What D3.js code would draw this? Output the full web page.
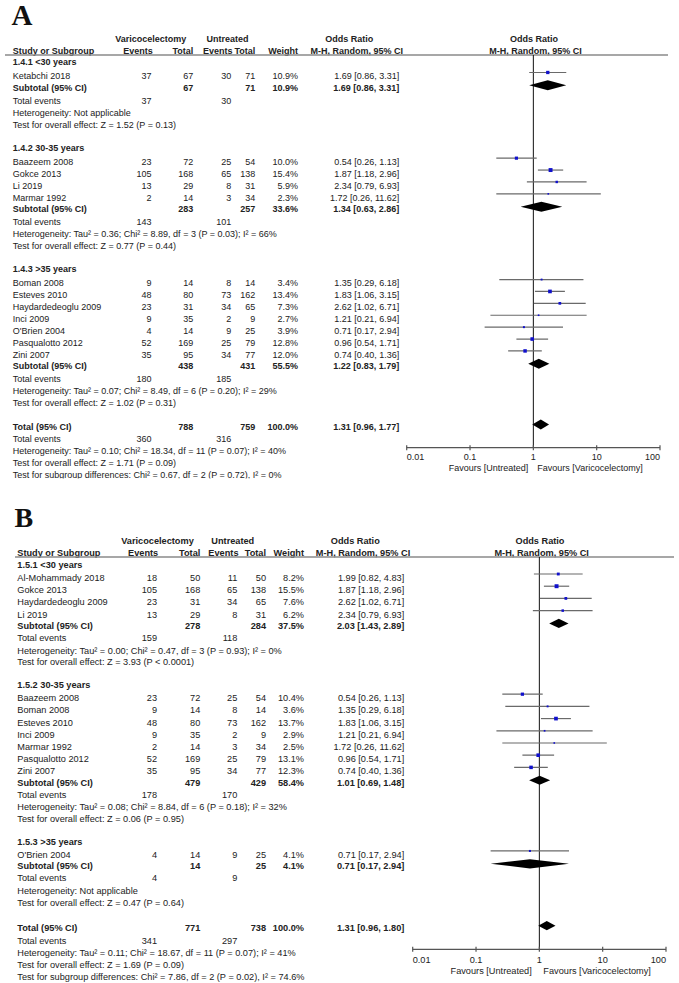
<!DOCTYPE html>
<html><head><meta charset="utf-8">
<script src="https://cdn.jsdelivr.net/npm/d3@7"></script>
<style>body{margin:0;background:#fff}svg{display:block}</style>
</head><body><svg id="c" width="679" height="983"></svg>
<script>
// ================= DATA =================
// Panel A
const groupsA = ["1.4.1 <30 years", "1.4.2 30-35 years", "1.4.3 >35 years"];
// [name, group, events1, total1, events2, total2, weight, OR, lower, upper]
const studiesA = [
  ["Ketabchi 2018", 0, 37, 67, 30, 71, 10.9, 1.69, 0.86, 3.31],
  ["Baazeem 2008", 1, 23, 72, 25, 54, 10.0, 0.54, 0.26, 1.13],
  ["Gokce 2013", 1, 105, 168, 65, 138, 15.4, 1.87, 1.18, 2.96],
  ["Li 2019", 1, 13, 29, 8, 31, 5.9, 2.34, 0.79, 6.93],
  ["Marmar 1992", 1, 2, 14, 3, 34, 2.3, 1.72, 0.26, 11.62],
  ["Boman 2008", 2, 9, 14, 8, 14, 3.4, 1.35, 0.29, 6.18],
  ["Esteves 2010", 2, 48, 80, 73, 162, 13.4, 1.83, 1.06, 3.15],
  ["Haydardedeoglu 2009", 2, 23, 31, 34, 65, 7.3, 2.62, 1.02, 6.71],
  ["Inci 2009", 2, 9, 35, 2, 9, 2.7, 1.21, 0.21, 6.94],
  ["O'Brien 2004", 2, 4, 14, 9, 25, 3.9, 0.71, 0.17, 2.94],
  ["Pasqualotto 2012", 2, 52, 169, 25, 79, 12.8, 0.96, 0.54, 1.71],
  ["Zini 2007", 2, 35, 95, 34, 77, 12.0, 0.74, 0.40, 1.36]
];
// [total1, total2, weight, OR, lower, upper, events1, events2]
const subtotalsA = [
  [67, 71, 10.9, 1.69, 0.86, 3.31, 37, 30],
  [283, 257, 33.6, 1.34, 0.63, 2.86, 143, 101],
  [438, 431, 55.5, 1.22, 0.83, 1.79, 180, 185]
];
const heterogeneityA = [
  "Heterogeneity: Not applicable",
  "Heterogeneity: Tau² = 0.36; Chi² = 8.89, df = 3 (P = 0.03); I² = 66%",
  "Heterogeneity: Tau² = 0.07; Chi² = 8.49, df = 6 (P = 0.20); I² = 29%"
];
const overallTestA = [
  "Test for overall effect: Z = 1.52 (P = 0.13)",
  "Test for overall effect: Z = 0.77 (P = 0.44)",
  "Test for overall effect: Z = 1.02 (P = 0.31)"
];
const totalA = [788, 759, 100.0, 1.31, 0.96, 1.77, 360, 316];
const totalTextsA = [
  "Heterogeneity: Tau² = 0.10; Chi² = 18.34, df = 11 (P = 0.07); I² = 40%",
  "Test for overall effect: Z = 1.71 (P = 0.09)",
  "Test for subgroup differences: Chi² = 0.67, df = 2 (P = 0.72), I² = 0%"
];

// Panel B
const groupsB = ["1.5.1 <30 years", "1.5.2 30-35 years", "1.5.3 >35 years"];
const studiesB = [
  ["Al-Mohammady 2018", 0, 18, 50, 11, 50, 8.2, 1.99, 0.82, 4.83],
  ["Gokce 2013", 0, 105, 168, 65, 138, 15.5, 1.87, 1.18, 2.96],
  ["Haydardedeoglu 2009", 0, 23, 31, 34, 65, 7.6, 2.62, 1.02, 6.71],
  ["Li 2019", 0, 13, 29, 8, 31, 6.2, 2.34, 0.79, 6.93],
  ["Baazeem 2008", 1, 23, 72, 25, 54, 10.4, 0.54, 0.26, 1.13],
  ["Boman 2008", 1, 9, 14, 8, 14, 3.6, 1.35, 0.29, 6.18],
  ["Esteves 2010", 1, 48, 80, 73, 162, 13.7, 1.83, 1.06, 3.15],
  ["Inci 2009", 1, 9, 35, 2, 9, 2.9, 1.21, 0.21, 6.94],
  ["Marmar 1992", 1, 2, 14, 3, 34, 2.5, 1.72, 0.26, 11.62],
  ["Pasqualotto 2012", 1, 52, 169, 25, 79, 13.1, 0.96, 0.54, 1.71],
  ["Zini 2007", 1, 35, 95, 34, 77, 12.3, 0.74, 0.40, 1.36],
  ["O'Brien 2004", 2, 4, 14, 9, 25, 4.1, 0.71, 0.17, 2.94]
];
const subtotalsB = [
  [278, 284, 37.5, 2.03, 1.43, 2.89, 159, 118],
  [479, 429, 58.4, 1.01, 0.69, 1.48, 178, 170],
  [14, 25, 4.1, 0.71, 0.17, 2.94, 4, 9]
];
const heterogeneityB = [
  "Heterogeneity: Tau² = 0.00; Chi² = 0.47, df = 3 (P = 0.93); I² = 0%",
  "Heterogeneity: Tau² = 0.08; Chi² = 8.84, df = 6 (P = 0.18); I² = 32%",
  "Heterogeneity: Not applicable"
];
const overallTestB = [
  "Test for overall effect: Z = 3.93 (P < 0.0001)",
  "Test for overall effect: Z = 0.06 (P = 0.95)",
  "Test for overall effect: Z = 0.47 (P = 0.64)"
];
const totalB = [771, 738, 100.0, 1.31, 0.96, 1.80, 341, 297];
const totalTextsB = [
  "Heterogeneity: Tau² = 0.11; Chi² = 18.67, df = 11 (P = 0.07); I² = 41%",
  "Test for overall effect: Z = 1.69 (P = 0.09)",
  "Test for subgroup differences: Chi² = 7.86, df = 2 (P = 0.02), I² = 74.6%"
];

const axisTicks = [0.01, 0.1, 1, 10, 100];
const tickLabels = ["0.01", "0.1", "1", "10", "100"];
const favourLabels = ["Favours [Untreated]", "Favours [Varicocelectomy]"];
const headerTop = ["Varicocelectomy", "Untreated", "Odds Ratio", "Odds Ratio"];
const headerBottom = ["Study or Subgroup", "Events", "Total", "Events", "Total", "Weight", "M-H, Random, 95% CI", "M-H, Random, 95% CI"];

// ================= LAYOUT =================
const layoutA = {
  letter: "A", letterX: 11.5, letterY: 25, letterSize: 29, fs: 9,
  clipH: 478.5,
  u: 11.9, y0: 62, hs: 1.2, ss: 0.95, se: 1.1, eh: 1.02, ht: 0.98, gapH: 1.95, gapT: 2.0, te: 1.03, tt: 1.0,
  colLabel: 12.7, colE1: 151.5, colN1: 193.3, colE2: 231.3, colN2: 255.3, colW: 298, colOR: 399.3,
  h1: 39, h2: 50.7, lineY: 55, lineX0: 5, lineX1: 668,
  cVar: 150.8, cUnt: 227.5, cOR1: 349.2, cMH1: 356.7, cOR2: 534, cMH2: 535.5,
  axisX0: 406.7, axisX1: 660, axisY: 447.7, tickLabY: 457.3, favY: 468.3,
  favGapL: 5, favGapR: 4, dh: 5
};
const layoutB = {
  letter: "B", letterX: 14.5, letterY: 527, letterSize: 28, fs: 9.2,
  clipH: 983,
  u: 12.2, y0: 565, hs: 1.05, ss: 0.93, se: 0.97, eh: 1.05, ht: 0.95, gapH: 1.9, gapT: 2.1, te: 1.02, tt: 1.0,
  colLabel: 17.3, colE1: 157, colN1: 200.3, colE2: 237.3, colN2: 266, colW: 304, colOR: 404.3,
  h1: 540.7, h2: 552.4, lineY: 557, lineX0: 15, lineX1: 674,
  cVar: 157.5, cUnt: 232.8, cOR1: 355.3, cMH1: 363, cOR2: 540, cMH2: 541.7,
  axisX0: 412.7, axisX1: 666, axisY: 949.3, tickLabY: 959.3, favY: 970.7,
  favGapL: 7.6, favGapR: 4, dh: 4.6
};

const svg = d3.select("#c");
const FONT = "'Liberation Sans', Arial, Helvetica, sans-serif";
const TXT = "#222";
const f2 = d3.format(".2f");
const f1 = d3.format(".1f");
const orText = (o, l, h) => `${f2(o)} [${f2(l)}, ${f2(h)}]`;

function buildRows(groups, studies, subs, het, test, total, totalTexts, L) {
  const rows = [];
  let y = L.y0;
  const step = k => { y += L.u * k; };
  groups.forEach((g, i) => {
    if (i > 0) step(L.gapH);
    rows.push({ type: "heading", y, text: g });
    studies.filter(s => s[1] === i).forEach((s, j) => {
      step(j === 0 ? L.hs : 1);
      rows.push({ type: "study", y, s });
    });
    step(L.ss); rows.push({ type: "summary", y, d: subs[i], label: "Subtotal (95% CI)" });
    step(L.se); rows.push({ type: "events", y, d: subs[i] });
    step(L.eh); rows.push({ type: "text", y, text: het[i] });
    step(L.ht); rows.push({ type: "text", y, text: test[i] });
  });
  step(L.gapT); rows.push({ type: "summary", y, d: total, label: "Total (95% CI)" });
  step(L.te); rows.push({ type: "events", y, d: total });
  totalTexts.forEach(t => { step(L.tt); rows.push({ type: "text", y, text: t }); });
  return rows;
}

function drawPanel(idx, groups, studies, subs, het, test, total, totalTexts, L) {
  const clipId = "clip" + idx;
  svg.append("clipPath").attr("id", clipId).append("rect")
    .attr("x", 0).attr("y", 0).attr("width", 679).attr("height", L.clipH);
  const g = svg.append("g").attr("clip-path", `url(#${clipId})`);

  const x = d3.scaleLog().domain([0.01, 100]).range([L.axisX0, L.axisX1]);
  const sq = d3.scaleSqrt().domain([0, 100]).range([0, 10]);

  const text = (xx, yy, t, anchor, bold, size) => g.append("text")
    .attr("x", xx).attr("y", yy).attr("dy", "0.35em")
    .attr("text-anchor", anchor || "start")
    .attr("font-family", FONT).attr("font-size", size || L.fs)
    .attr("font-weight", bold ? "bold" : "normal")
    .attr("fill", TXT).text(t);

  // panel letter
  g.append("text").attr("x", L.letterX).attr("y", L.letterY)
    .attr("font-family", "'Liberation Serif', 'Times New Roman', serif")
    .attr("font-weight", "bold").attr("font-size", L.letterSize)
    .attr("fill", "#111").text(L.letter);

  // headers
  text(L.cVar, L.h1, headerTop[0], "middle", true);
  text(L.cUnt, L.h1, headerTop[1], "middle", true);
  text(L.cOR1, L.h1, headerTop[2], "middle", true);
  text(L.cOR2, L.h1, headerTop[3], "middle", true);
  text(L.colLabel, L.h2, headerBottom[0], "start", true);
  text(L.colE1 + 1.2, L.h2, headerBottom[1], "end", true);
  text(L.colN1, L.h2, headerBottom[2], "end", true);
  text(L.colE2 + 1.2, L.h2, headerBottom[3], "end", true);
  text(L.colN2, L.h2, headerBottom[4], "end", true);
  text(L.colW, L.h2, headerBottom[5], "end", true);
  text(L.cMH1, L.h2, headerBottom[6], "middle", true);
  text(L.cMH2, L.h2, headerBottom[7], "middle", true);

  g.append("line").attr("x1", L.lineX0).attr("x2", L.lineX1)
    .attr("y1", L.lineY).attr("y2", L.lineY)
    .attr("stroke", "#8a8a8a").attr("stroke-width", 1.4);

  // null line
  g.append("line").attr("x1", x(1)).attr("x2", x(1))
    .attr("y1", L.lineY).attr("y2", L.axisY)
    .attr("stroke", "#111").attr("stroke-width", 1);

  const rows = buildRows(groups, studies, subs, het, test, total, totalTexts, L);
  rows.forEach(r => {
    if (r.type === "heading") {
      text(L.colLabel, r.y, r.text, "start", true);
    } else if (r.type === "study") {
      const s = r.s;
      text(L.colLabel, r.y, s[0]);
      text(L.colE1, r.y, s[2], "end");
      text(L.colN1, r.y, s[3], "end");
      text(L.colE2, r.y, s[4], "end");
      text(L.colN2, r.y, s[5], "end");
      text(L.colW, r.y, f1(s[6]) + "%", "end");
      text(L.colOR, r.y, orText(s[7], s[8], s[9]), "end");
      const my = r.y - 3.8;
      g.append("line").attr("x1", x(s[8])).attr("x2", x(s[9]))
        .attr("y1", my).attr("y2", my)
        .attr("stroke", "#6a6a6a").attr("stroke-width", 1.2);
      const side = Math.max(1.6, sq(s[6]));
      g.append("rect").attr("x", x(s[7]) - side / 2).attr("y", my - side / 2)
        .attr("width", side).attr("height", side).attr("fill", "#1010cc");
    } else if (r.type === "summary") {
      const d = r.d;
      text(L.colLabel, r.y, r.label, "start", true);
      text(L.colN1, r.y, d[0], "end", true);
      text(L.colN2, r.y, d[1], "end", true);
      text(L.colW, r.y, f1(d[2]) + "%", "end", true);
      text(L.colOR, r.y, orText(d[3], d[4], d[5]), "end", true);
      const cy = r.y - 2.3;
      const pts = [[x(d[4]), cy], [x(d[3]), cy - L.dh], [x(d[5]), cy], [x(d[3]), cy + L.dh]];
      g.append("path").attr("d", d3.line()(pts) + "Z").attr("fill", "#000");
    } else if (r.type === "events") {
      text(L.colLabel, r.y, "Total events");
      text(L.colE1, r.y, r.d[6], "end");
      text(L.colE2, r.y, r.d[7], "end");
    } else {
      text(L.colLabel, r.y, r.text);
    }
  });

  // axis
  g.append("line").attr("x1", L.axisX0).attr("x2", L.axisX1)
    .attr("y1", L.axisY).attr("y2", L.axisY)
    .attr("stroke", "#555").attr("stroke-width", 1.2);
  axisTicks.forEach((t, i) => {
    g.append("line").attr("x1", x(t)).attr("x2", x(t))
      .attr("y1", L.axisY - 2.5).attr("y2", L.axisY + 2.5)
      .attr("stroke", "#555").attr("stroke-width", 1.2);
    const anchor = i === 0 ? "start" : (i === axisTicks.length - 1 ? "end" : "middle");
    text(x(t), L.tickLabY, tickLabels[i], anchor);
  });
  text(x(1) - L.favGapL, L.favY, favourLabels[0], "end");
  text(x(1) + L.favGapR, L.favY, favourLabels[1], "start");
}

drawPanel(0, groupsA, studiesA, subtotalsA, heterogeneityA, overallTestA, totalA, totalTextsA, layoutA);
drawPanel(1, groupsB, studiesB, subtotalsB, heterogeneityB, overallTestB, totalB, totalTextsB, layoutB);
</script>
</body></html>
